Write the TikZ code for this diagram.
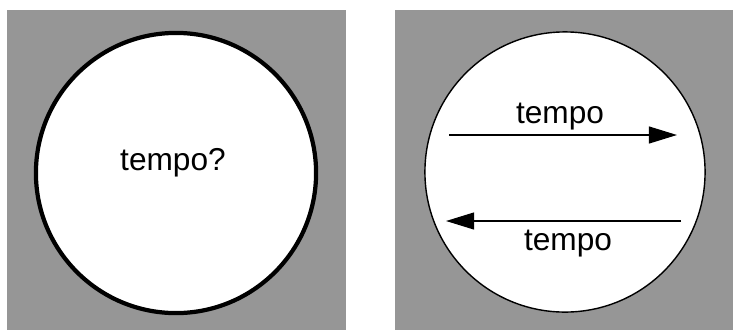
\documentclass[tikz,border=0pt]{standalone}
\usepackage{fontspec}
\setmainfont{Liberation Sans}
\usepackage{tikz}
\usetikzlibrary{arrows.meta,positioning}
\definecolor{NoiseGray}{RGB}{150,150,150}

\begin{document}
\begin{tikzpicture}[x=0.01cm,y=-0.01cm,
  panel/.style={fill=NoiseGray,minimum width=3.39cm,minimum height=3.2cm,inner sep=0pt},
  disc/.style={circle,draw,fill=white,minimum size=2.8cm,inner sep=0pt},
  word/.style={font=\fontsize{9}{10}\selectfont},
  tempoarrow/.style={-{Triangle[length=8pt,width=4.8pt]},line width=0.5pt}]
\useasboundingbox[fill=white] (0,0) rectangle (733,330);
% left panel
\node[panel] (pl) at (176.5,170) {};
\node[disc,line width=1.2pt] (cl) at (176,173) {};
\node[word] (q) at (173,163) {tempo?};
% right panel
\node[panel] (pr) at (564.5,170) {};
\node[disc,line width=0.4pt] (cr) at (565,172) {};
\coordinate (a1) at (449,135);
\coordinate (b1) at (677,135);
\coordinate (a2) at (681,221);
\coordinate (b2) at (446,221);
\node[word] (tu) at (560,117) {tempo};
\node[word] (td) at (568,244) {tempo};
\draw[tempoarrow] (a1)--(b1);
\draw[tempoarrow] (a2)--(b2);
\end{tikzpicture}
\end{document}
